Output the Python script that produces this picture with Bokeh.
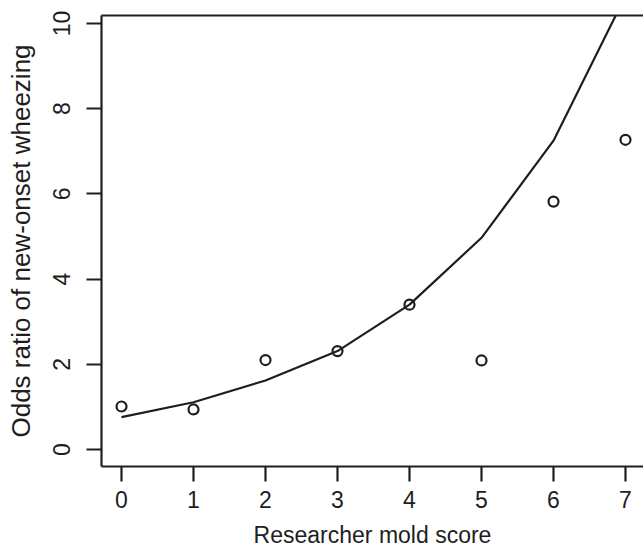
from bokeh.plotting import figure
from bokeh.models import Range1d, LinearAxis, FixedTicker
from bokeh.embed import file_html
from bokeh.resources import INLINE

# Data
mold_score = [0, 1, 2, 3, 4, 5, 6, 7]
observed_or = [1.01, 0.94, 2.10, 2.31, 3.40, 2.09, 5.82, 7.27]
fitted_or = [0.76, 1.11, 1.62, 2.31, 3.40, 4.97, 7.25, 10.65]
x_ticks = [0, 1, 2, 3, 4, 5, 6, 7]
y_ticks = [0, 2, 4, 6, 8, 10]
x_title = "Researcher mold score"
y_title = "Odds ratio of new-onset wheezing"

INK = "#1e1e1e"
FONT = "Liberation Sans"

p = figure(width=643, height=550, output_backend="svg", toolbar_location=None,
           x_range=Range1d(-0.278, 7.250), y_range=Range1d(-0.399, 10.188),
           min_border_left=101, min_border_right=0, min_border_top=15,
           min_border_bottom=84)
p.outline_line_color = None
p.xgrid.visible = False
p.ygrid.visible = False
p.background_fill_color = "white"
p.border_fill_color = "white"

# fitted curve
p.line(mold_score, fitted_or, line_color=INK, line_width=2.2)
# observed points
p.scatter(mold_score, observed_or, marker="circle", size=10,
          fill_color=None, line_color=INK, line_width=2.2)

for ax in (p.xaxis[0], p.yaxis[0]):
    ax.axis_line_color = INK
    ax.axis_line_width = 2.2
    ax.major_tick_line_color = INK
    ax.major_tick_line_width = 2.2
    ax.major_tick_in = 0
    ax.major_tick_out = 15
    ax.minor_tick_line_color = None
    ax.major_label_text_font = FONT
    ax.major_label_text_font_size = "23px"
    ax.major_label_text_color = INK
    ax.axis_label_text_font = FONT
    ax.axis_label_text_font_style = "normal"
    ax.axis_label_text_color = INK

p.xaxis.ticker = FixedTicker(ticks=x_ticks)
p.yaxis.ticker = FixedTicker(ticks=y_ticks)
p.xaxis.axis_label = x_title
p.xaxis.axis_label_text_font_size = "23px"
p.xaxis.major_label_standoff = 9
p.xaxis.axis_label_standoff = 11
p.yaxis.axis_label = y_title
p.yaxis.axis_label_text_font_size = "26px"
p.yaxis.major_label_orientation = "vertical"
p.yaxis.major_label_standoff = 16
p.yaxis.axis_label_standoff = 15

top = LinearAxis(ticker=FixedTicker(ticks=[]), axis_line_color=INK, axis_line_width=2.2,
                 major_tick_line_color=None, minor_tick_line_color=None,
                 major_label_text_font_size="0px", major_label_standoff=0)
p.add_layout(top, "above")

open("out.html", "w").write(file_html(p, INLINE))
